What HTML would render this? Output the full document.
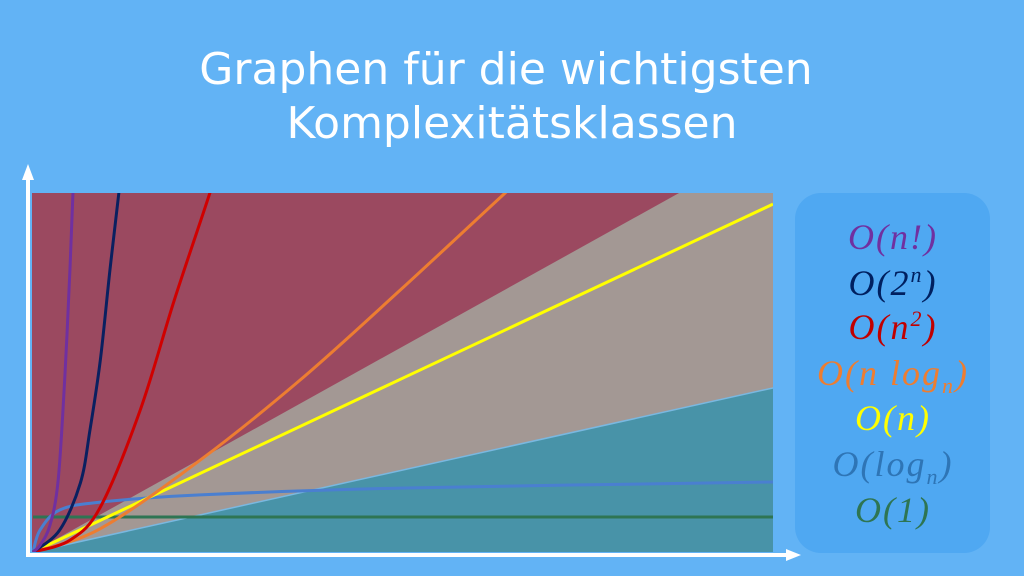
<!DOCTYPE html>
<html><head><meta charset="utf-8"><style>
html,body{margin:0;padding:0;width:1024px;height:576px;background:#62b3f5;overflow:hidden}
</style></head><body>
<svg width="1024" height="576" xmlns="http://www.w3.org/2000/svg">
<text x="506" y="84" text-anchor="middle" font-family="DejaVu Sans, sans-serif" font-size="44" fill="#fff">Graphen für die wichtigsten</text>
<text x="512" y="138" text-anchor="middle" font-family="DejaVu Sans, sans-serif" font-size="44" fill="#fff">Komplexitätsklassen</text>
<defs><clipPath id="pc"><rect x="32" y="193" width="741" height="359"/></clipPath></defs>
<g id="plot" clip-path="url(#pc)"></g>
<g>
<line x1="28" y1="556" x2="28" y2="178" stroke="#fff" stroke-width="4"/>
<polygon points="22,180 34,180 28,164" fill="#fff"/>
<line x1="26" y1="555" x2="788" y2="555" stroke="#fff" stroke-width="4"/>
<polygon points="786,549 786,561 801,555" fill="#fff"/>
</g>
<rect x="795" y="193" width="195" height="360" rx="26" fill="#4fa8f2"/>
<g font-family="Liberation Serif, serif" font-style="italic" font-size="36" text-anchor="middle" letter-spacing="2">
<text x="893" y="249" fill="#7030a0">O(n!)</text>
<text x="893" y="295" fill="#002060">O(2<tspan font-size="22" dy="-13">n</tspan><tspan dy="13">)</tspan></text>
<text x="893" y="339" fill="#c00000">O(n<tspan font-size="22" dy="-13">2</tspan><tspan dy="13">)</tspan></text>
<text x="893" y="385" fill="#ed7d31">O(n log<tspan font-size="22" dy="8">n</tspan><tspan dy="-8">)</tspan></text>
<text x="893" y="430" fill="#ffff00">O(n)</text>
<text x="893" y="476" fill="#2e75b6">O(log<tspan font-size="22" dy="8">n</tspan><tspan dy="-8">)</tspan></text>
<text x="893" y="522" fill="#2e7553">O(1)</text>
</g>
</svg>
<script>
const factX=[0,0.95,2.3,3.4,4.3,5,5.4,5.7];
const factY=[0,1.9,7.5,20,48.7,79,100,112];
const expX=[0,3.6,6.4,7.7,9.1,10.4,11.6,12.2];
const expY=[0,6.1,19.2,34,53.5,78.6,100,112];
const sqX=[0,5,9.1,14.5,19.1,23.9,25];
const sqY=[0,3.3,12.5,39.6,70.2,100,108];
const nlogX=[0,9.1,22.6,36.1,49.6,63.8,66];
const nlogY=[0,6.5,25.6,47.9,72.9,100,104];
const linX=[0,100];
const linY=[0,96.9];
const logX=[0,0.95,3.6,9.1,22.6,49.6,100];
const logY=[0,6.1,11.7,13.9,15.9,17.8,19.5];
const constX=[0,100];
const constY=[9.75,9.75];
const grayTop=[87.3,100];
const tealTop=[100,45.7];
const sx=v=>33+v*7.4, sy=v=>552-v*3.59;
const NS="http://www.w3.org/2000/svg", g=document.getElementById('plot');
function poly(pts,fill,name){const p=document.createElementNS(NS,'polygon');
p.setAttribute('points',pts.map(q=>sx(q[0])+','+sy(q[1])).join(' '));p.setAttribute('fill',fill);


g.appendChild(p);}
poly([[-1,-1],[101,-1],[101,101],[-1,101]],'#9b4960','region-bad');
poly([[0,0],[grayTop[0],grayTop[1]],[101,101],[101,-1]],'#a39894','region-fair');
poly([[0,0],[tealTop[0],tealTop[1]],[101,tealTop[1]],[101,-1]],'#4893a8','region-good');
const tl=document.createElementNS(NS,'line');
tl.setAttribute('x1',sx(0));tl.setAttribute('y1',sy(0));tl.setAttribute('x2',sx(tealTop[0]));tl.setAttribute('y2',sy(tealTop[1]));
tl.setAttribute('stroke','#7ab8e0');tl.setAttribute('stroke-width','1.5');


g.appendChild(tl);
function line(xs,ys,col,name){const p=document.createElementNS(NS,'path');
const P=xs.map((x,i)=>[sx(x),sy(ys[i])]);
let d='M'+P[0][0]+','+P[0][1];
for(let i=0;i<P.length-1;i++){const p0=P[Math.max(i-1,0)],p1=P[i],p2=P[i+1],p3=P[Math.min(i+2,P.length-1)];
const c1=[p1[0]+(p2[0]-p0[0])/6,p1[1]+(p2[1]-p0[1])/6],c2=[p2[0]-(p3[0]-p1[0])/6,p2[1]-(p3[1]-p1[1])/6];
d+='C'+c1[0]+','+c1[1]+' '+c2[0]+','+c2[1]+' '+p2[0]+','+p2[1];}
p.setAttribute('d',d);p.setAttribute('fill','none');p.setAttribute('stroke',col);p.setAttribute('stroke-width','3');p.setAttribute('stroke-linejoin','round');


g.appendChild(p);}
line(constX,constY,'#2e7553','line-constant');
line(logX,logY,'#4a7fd0','line-log');
line(linX,linY,'#ffff00','line-linear');
line(nlogX,nlogY,'#ed7d31','line-nlogn');
line(sqX,sqY,'#d00000','line-quadratic');
line(expX,expY,'#0a2060','line-exponential');
line(factX,factY,'#7030a0','line-factorial');
</script>
</body></html>
